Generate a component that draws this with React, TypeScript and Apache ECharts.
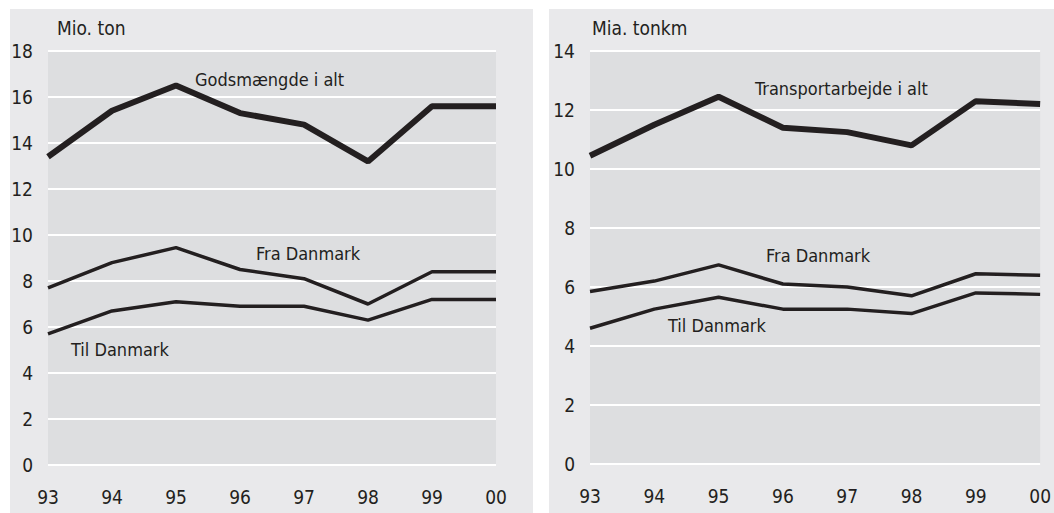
import React, { useEffect, useRef } from "react";
import * as echarts from "echarts";

const years = ["93", "94", "95", "96", "97", "98", "99", "00"];

const godsmaengde = [13.4, 15.4, 16.5, 15.3, 14.8, 13.2, 15.6, 15.6];
const fraDanmarkTon = [7.7, 8.8, 9.45, 8.5, 8.1, 7.0, 8.4, 8.4];
const tilDanmarkTon = [5.7, 6.7, 7.1, 6.9, 6.9, 6.3, 7.2, 7.2];

const transportarbejde = [10.45, 11.5, 12.45, 11.4, 11.25, 10.8, 12.3, 12.2];
const fraDanmarkKm = [5.85, 6.2, 6.75, 6.1, 6.0, 5.7, 6.45, 6.4];
const tilDanmarkKm = [4.6, 5.25, 5.65, 5.25, 5.25, 5.1, 5.8, 5.75];

const FONT = "'Liberation Sans Narrow', 'DejaVu Sans Condensed', 'Liberation Sans', sans-serif";
const INK = "#231f20";
const OUTER = "#e9e9eb";
const INNER = "#dddee0";

export default function App() {
  const ref = useRef<HTMLDivElement>(null);

  useEffect(() => {
    if (!ref.current) return;
    const chart = echarts.init(ref.current, null, { renderer: "svg" });

    const xAxisBase = (gridIndex: number) => ({
      type: "category" as const,
      gridIndex,
      data: years,
      boundaryGap: false,
      axisLine: { show: false },
      axisTick: { show: false },
      splitLine: { show: false },
      axisLabel: { color: INK, fontFamily: FONT, fontSize: 19, margin: 22 },
    });

    const yAxisBase = (gridIndex: number, max: number) => ({
      type: "value" as const,
      gridIndex,
      min: 0,
      max,
      interval: 2,
      axisLine: { show: false },
      axisTick: { show: false },
      splitLine: { show: true, lineStyle: { color: "#ffffff", width: 2 } },
      axisLabel: { color: INK, fontFamily: FONT, fontSize: 19, margin: 15 },
    });

    const lineSeries = (data: number[], xi: number, width: number) => ({
      type: "line" as const,
      xAxisIndex: xi,
      yAxisIndex: xi,
      data,
      symbol: "none",
      lineStyle: { color: INK, width },
      z: 5,
    });

    const txt = (x: number, y: number, text: string, size = 18) => ({
      type: "text" as const,
      x,
      y,
      z: 10,
      style: {
        text,
        fill: INK,
        fontFamily: FONT,
        fontSize: size,
        textVerticalAlign: "middle",
        verticalAlign: "middle",
      },
    });

    chart.setOption({
      animation: false,
      graphic: [
        { type: "rect", shape: { x: 10, y: 9, width: 523, height: 504 }, style: { fill: OUTER }, z: -10 },
        { type: "rect", shape: { x: 549, y: 9, width: 505, height: 504 }, style: { fill: OUTER }, z: -10 },
        txt(57, 28, "Mio. ton", 19),
        txt(592, 28, "Mia. tonkm", 19),
        txt(195, 79, "Godsmængde i alt"),
        txt(256, 253, "Fra Danmark"),
        txt(71, 349, "Til Danmark"),
        txt(755, 88, "Transportarbejde i alt"),
        txt(766, 255, "Fra Danmark"),
        txt(668, 325, "Til Danmark"),
      ],
      grid: [
        { left: 48, top: 51, width: 448, height: 414, show: true, backgroundColor: INNER, borderWidth: 0, z: 0 },
        { left: 590, top: 51, width: 453, height: 413, show: true, backgroundColor: INNER, borderWidth: 0, z: 0 },
      ],
      xAxis: [xAxisBase(0), xAxisBase(1)],
      yAxis: [yAxisBase(0, 18), yAxisBase(1, 14)],
      series: [
        lineSeries(godsmaengde, 0, 6),
        lineSeries(fraDanmarkTon, 0, 3.5),
        lineSeries(tilDanmarkTon, 0, 3.5),
        lineSeries(transportarbejde, 1, 6),
        lineSeries(fraDanmarkKm, 1, 3.5),
        lineSeries(tilDanmarkKm, 1, 3.5),
      ],
    });

    return () => chart.dispose();
  }, []);

  return (
    <div
      ref={ref}
      style={{ position: "fixed", left: 0, top: 0, width: 1054, height: 513, background: "#ffffff" }}
    />
  );
}
